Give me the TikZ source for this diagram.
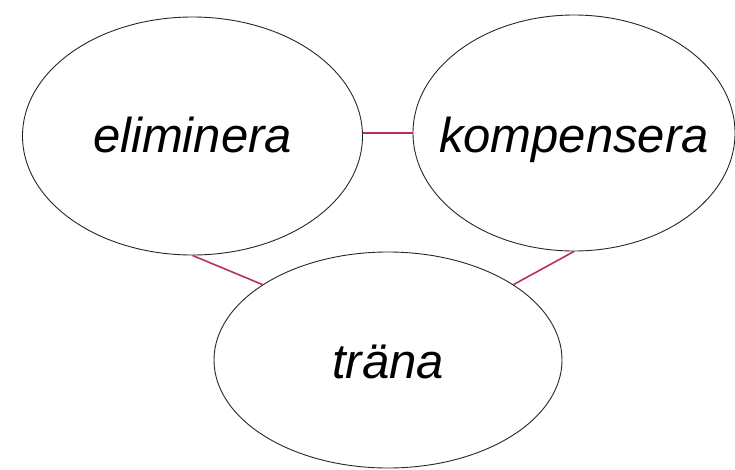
\documentclass[tikz,border=0pt]{standalone}
\usepackage{fontspec}
\setmainfont{Liberation Sans}
\usetikzlibrary{shapes.geometric}
\definecolor{linkred}{HTML}{B8305C}
\tikzset{
  bubble/.style={draw=black!85, line width=0.9pt, ellipse, inner sep=0pt},
  word/.style={inner sep=0pt, anchor=base, font=\fontsize{49}{56}\selectfont\itshape},
  link/.style={draw=linkred, line width=1.6pt}
}
\begin{document}
\begin{tikzpicture}[x=1pt,y=-1pt]
\useasboundingbox (0,0) rectangle (735,469);
\node[bubble, minimum width=340pt, minimum height=238pt] (el) at (192.5,136) {};
\node[bubble, minimum width=322pt, minimum height=236pt] (komp) at (574,133) {};
\node[bubble, minimum width=348pt, minimum height=216pt] (tr) at (388,360) {};
\node[word] (elt) at ([yshift=-16pt]el.center) {eliminera};
\node[word] (kompt) at ([yshift=-19pt]komp.center) {kompensera};
\node[word] (trt) at ([yshift=-18pt]tr.center) {träna};
\draw[link] (komp.west -| el.east) -- (komp.west);
\draw[link] (el.south) -- (tr.149);
\draw[link] (komp.south) -- (tr.31);
\end{tikzpicture}
\end{document}
